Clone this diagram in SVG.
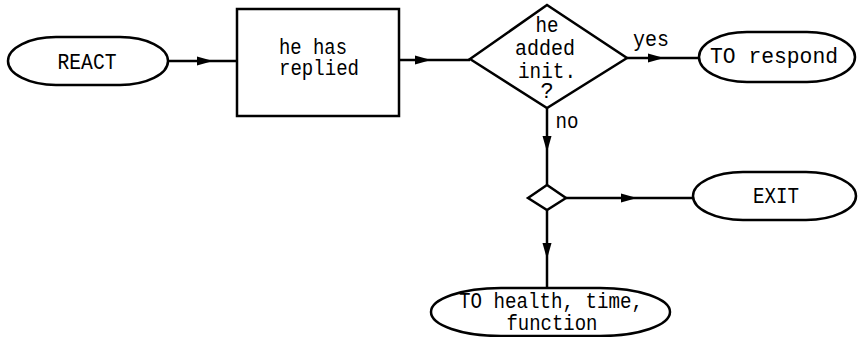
<svg xmlns="http://www.w3.org/2000/svg" width="860" height="337" viewBox="0 0 860 337">
<style>
.s{fill:#fff;stroke:#000;stroke-width:2.5}
.c{fill:none;stroke:#000;stroke-width:2.5}
text{font-family:"Liberation Mono","DejaVu Sans Mono",monospace;font-size:22px;fill:#000;text-anchor:middle}
</style>
<defs>
<marker id="a" viewBox="0 0 16 10" refX="16" refY="5" markerWidth="16" markerHeight="10" markerUnits="userSpaceOnUse" orient="auto">
<path d="M0,0.5 L16,5 L0,9.5 Z" fill="#000"/>
</marker>
</defs>
<rect width="860" height="337" fill="#fff"/>
<g id="connectors">
<path class="c" d="M168,61 L213,61 L237,61" marker-mid="url(#a)"/>
<path class="c" d="M399,60 L431,60 L470,60" marker-mid="url(#a)"/>
<path class="c" d="M627,58 L664,58 L699,58" marker-mid="url(#a)"/>
<path class="c" d="M547,108 L547,152 L547,185" marker-mid="url(#a)"/>
<path class="c" d="M566,198 L637,198 L693,198" marker-mid="url(#a)"/>
<path class="c" d="M547,210 L547,259 L547,288" marker-mid="url(#a)"/>
<text x="651" y="46" textLength="36" lengthAdjust="spacingAndGlyphs">yes</text>
<text x="567" y="128" textLength="23" lengthAdjust="spacingAndGlyphs">no</text>
</g>
<g id="react">
<rect class="s" x="8" y="37" width="160" height="48" rx="48" ry="24"/>
<text x="87" y="69" textLength="59" lengthAdjust="spacingAndGlyphs">REACT</text>
</g>
<g id="replied">
<rect class="s" x="237" y="9" width="162" height="107"/>
<text x="279" y="54" style="text-anchor:start" textLength="68" lengthAdjust="spacingAndGlyphs">he has</text>
<text x="279" y="75" style="text-anchor:start" textLength="80" lengthAdjust="spacingAndGlyphs">replied</text>
</g>
<g id="decision">
<path class="s" d="M470,59 L547,5 L627,58 L547,108 Z"/>
<text x="547" y="32" textLength="23" lengthAdjust="spacingAndGlyphs">he</text>
<text x="545" y="55" textLength="60" lengthAdjust="spacingAndGlyphs">added</text>
<text x="547" y="78" textLength="58" lengthAdjust="spacingAndGlyphs">init.</text>
<text x="547" y="98">?</text>
</g>
<g id="respond">
<rect class="s" x="699" y="32" width="156" height="50" rx="48" ry="25"/>
<text x="774" y="63" textLength="128" lengthAdjust="spacingAndGlyphs">TO respond</text>
</g>
<g id="junction">
<path class="s" d="M528,198 L547,185 L566,198 L547,210 Z"/>
</g>
<g id="exit">
<rect class="s" x="693" y="172" width="163" height="48" rx="50" ry="24"/>
<text x="776" y="203" textLength="46" lengthAdjust="spacingAndGlyphs">EXIT</text>
</g>
<g id="health">
<rect class="s" x="431" y="288" width="239" height="48" rx="70" ry="24"/>
<text x="551" y="308" textLength="184" lengthAdjust="spacingAndGlyphs">TO health, time,</text>
<text x="552" y="330" textLength="91" lengthAdjust="spacingAndGlyphs">function</text>
</g>
</svg>
